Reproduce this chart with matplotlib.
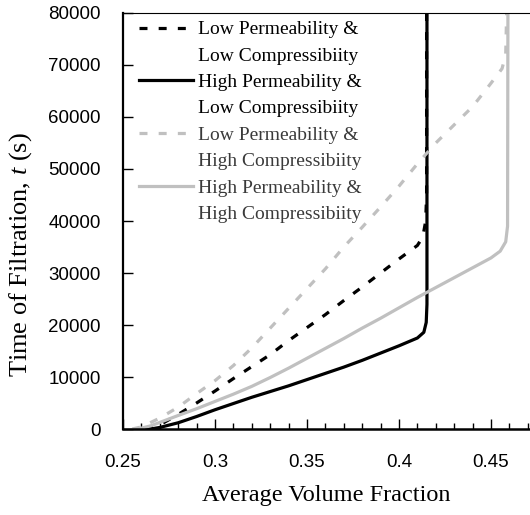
import numpy as np
import matplotlib
matplotlib.use('Agg')
import matplotlib.pyplot as plt
from matplotlib.lines import Line2D
from matplotlib.ticker import MultipleLocator

plt.rcParams['mathtext.fontset'] = 'custom'
plt.rcParams['mathtext.rm'] = 'Liberation Serif'
plt.rcParams['mathtext.it'] = 'Liberation Serif:italic'

# Low permeability & low compressibility (black dashed)
x_lplc = [0.262, 0.27, 0.28, 0.29, 0.30, 0.31, 0.32, 0.33, 0.34, 0.35, 0.36, 0.37,
          0.38, 0.39, 0.40, 0.41, 0.413, 0.4145, 0.415, 0.415]
t_lplc = [0, 800, 2800, 5000, 7300, 9700, 12000, 14300, 17000, 19500, 22000, 24700,
          27300, 30000, 32700, 35300, 37000, 40000, 45000, 80000]

# High permeability & low compressibility (black solid)
x_hplc = [0.265, 0.27, 0.28, 0.29, 0.30, 0.31, 0.32, 0.33, 0.34, 0.35, 0.36, 0.37,
          0.38, 0.39, 0.40, 0.41, 0.4135, 0.4148, 0.4152, 0.4152]
t_hplc = [0, 300, 1200, 2400, 3700, 4900, 6100, 7200, 8300, 9500, 10700, 11900,
          13200, 14600, 16000, 17500, 18600, 20500, 24000, 80000]

# Low permeability & high compressibility (grey dashed)
x_lphc = [0.255, 0.26, 0.27, 0.28, 0.29, 0.30, 0.31, 0.32, 0.33, 0.34, 0.35, 0.36,
          0.37, 0.38, 0.39, 0.40, 0.41, 0.42, 0.43, 0.44, 0.45, 0.456, 0.458, 0.4585]
t_lphc = [0, 400, 2100, 4200, 6800, 9300, 12200, 15600, 19400, 23200, 27000, 30800,
          35000, 38800, 42700, 46700, 51000, 55000, 58500, 62000, 66500, 69300, 72000, 80000]

# High permeability & high compressibility (grey solid)
x_hphc = [0.258, 0.265, 0.28, 0.29, 0.30, 0.31, 0.32, 0.33, 0.34, 0.35, 0.36, 0.37,
          0.38, 0.39, 0.40, 0.41, 0.42, 0.43, 0.44, 0.45, 0.455, 0.458, 0.4590, 0.4592]
t_hphc = [0, 600, 2600, 3900, 5300, 6700, 8200, 9900, 11700, 13600, 15500, 17400,
          19400, 21300, 23300, 25300, 27200, 29100, 31000, 32900, 34200, 36000, 39000, 80000]

labels = ['Low Permeability &', 'Low Compressibiity',
          'High Permeability &', 'Low Compressibiity',
          'Low Permeability &', 'High Compressibiity',
          'High Permeability &', 'High Compressibiity']

grey = '#c0c0c0'

fig = plt.figure(figsize=(5.30, 5.15), dpi=100)
ax = fig.add_axes([123 / 530, 86 / 515, 407 / 530, 416 / 515])

l1, = ax.plot(x_lplc, t_lplc, color='black', lw=2.3, dashes=(2.5, 3.5))
l2, = ax.plot(x_hplc, t_hplc, color='black', lw=2.3)
l3, = ax.plot(x_lphc, t_lphc, color=grey, lw=2.3, dashes=(2.5, 3.5))
l4, = ax.plot(x_hphc, t_hphc, color=grey, lw=2.3)

ax.set_xlim(0.25, 0.4712)
ax.set_ylim(0, 80000)
ax.xaxis.set_major_locator(MultipleLocator(0.05))
ax.xaxis.set_minor_locator(MultipleLocator(0.01))
ax.yaxis.set_major_locator(MultipleLocator(10000))
ax.set_xticks([0.25, 0.3, 0.35, 0.4, 0.45])
ax.set_xticklabels(['0.25', '0.3', '0.35', '0.4', '0.45'])

ax.tick_params(axis='x', which='major', direction='in', length=7, width=1, pad=18)
ax.tick_params(axis='x', which='minor', direction='in', length=4, width=1)
ax.tick_params(axis='y', which='major', direction='in', length=7, width=1, pad=16)
for lab in ax.get_xticklabels() + ax.get_yticklabels():
    lab.set_family('Liberation Sans')
    lab.set_fontsize(13.5)

ax.spines['right'].set_visible(False)
ax.spines['top'].set_linewidth(0.8)
ax.spines['left'].set_linewidth(1.6)
ax.spines['bottom'].set_linewidth(1.8)

ax.set_xlabel('Average Volume Fraction', family='Liberation Serif', fontsize=17.5, labelpad=10)
ax.set_ylabel('Time of Filtration, $t$ (s)', family='Liberation Serif', fontsize=19)
ax.yaxis.set_label_coords(-0.218, 0.42)

blank = Line2D([], [], linestyle='none')
handles = [l1, blank, l2, blank, l3, blank, l4, blank]
leg = ax.legend(handles, labels, loc='upper left', frameon=False,
                prop={'family': 'Liberation Serif', 'size': 14},
                handlelength=2.8, handletextpad=0.25, labelspacing=0.45,
                borderaxespad=0.0, bbox_to_anchor=(0.02, 1.0))
for i, txt in enumerate(leg.get_texts()):
    txt.set_color('black' if i < 4 else '#3a3a3a')

fig.savefig('out.png', dpi=100)
